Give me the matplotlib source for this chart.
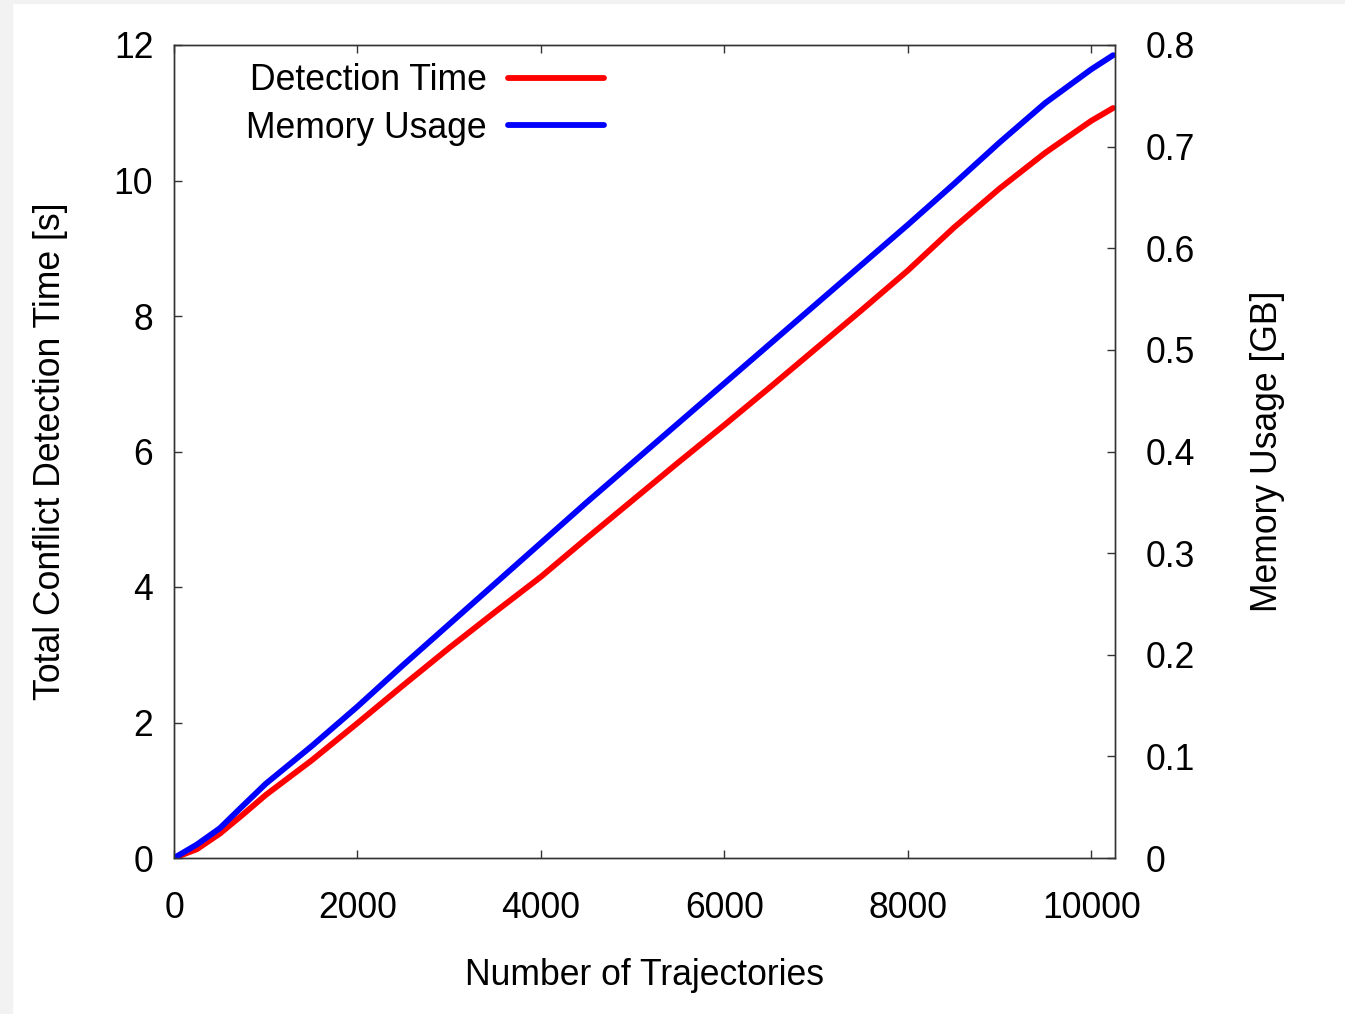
import numpy as np
import matplotlib.pyplot as plt
from matplotlib.patches import Rectangle

plt.rcParams['font.family'] = ['Liberation Sans', 'DejaVu Sans']

# number of trajectories
trajectories = [0, 250, 500, 750, 1000, 1500, 2000, 2500, 3000, 3500, 4000, 4500,
                5000, 5500, 6000, 6500, 7000, 7500, 8000, 8500, 9000, 9500, 10000, 10240]
# total conflict detection time [s]
detection_time = [0, 0.13, 0.36, 0.64, 0.93, 1.44, 1.99, 2.55, 3.10, 3.63, 4.15, 4.72,
                  5.28, 5.84, 6.39, 6.95, 7.52, 8.09, 8.67, 9.30, 9.88, 10.41, 10.88, 11.07]
# memory usage [GB]
memory_usage = [0, 0.0133, 0.0293, 0.0513, 0.0730, 0.110, 0.149, 0.190, 0.230, 0.270, 0.310, 0.350,
                0.389, 0.428, 0.467, 0.506, 0.545, 0.584, 0.623, 0.663, 0.704, 0.743, 0.776, 0.790]

x_ticks = [0, 2000, 4000, 6000, 8000, 10000]
y1_ticks = [0, 2, 4, 6, 8, 10, 12]
y2_ticks = [0, 0.1, 0.2, 0.3, 0.4, 0.5, 0.6, 0.7, 0.8]
y2_labels = ['0', '0.1', '0.2', '0.3', '0.4', '0.5', '0.6', '0.7', '0.8']

fs = 25.6

fig = plt.figure(figsize=(13.45, 10.14), dpi=100)
# light grey border of the screenshot
fig.patches.append(Rectangle((0, 0), 12 / 1345, 1, transform=fig.transFigure,
                             color='#f2f2f2', zorder=0))
fig.patches.append(Rectangle((0, 1 - 3 / 1014), 1, 3 / 1014, transform=fig.transFigure,
                             color='#f2f2f2', zorder=0))

ax = fig.add_axes([174 / 1345, 156 / 1014, 941 / 1345, 813 / 1014])
ax2 = ax.twinx()

l1, = ax.plot(trajectories, detection_time, color='#ff0000', lw=4.2,
              solid_capstyle='round', label='Detection Time')
l2, = ax2.plot(trajectories, memory_usage, color='#0000ff', lw=4.2,
               solid_capstyle='round', label='Memory Usage')

ax.set_xlim(0, 10260)
ax.set_ylim(0, 12)
ax2.set_ylim(0, 0.8)

ax.set_xticks(x_ticks)
ax.set_xticklabels([str(t) for t in x_ticks])
ax.set_yticks(y1_ticks)
ax2.set_yticks(y2_ticks)
ax2.set_yticklabels(y2_labels)

ax.tick_params(axis='x', direction='in', length=6, width=1, labelsize=fs, pad=24,
               top=True, colors='#333333', labelcolor='black')
ax.tick_params(axis='y', direction='in', length=6, width=1, labelsize=fs, pad=15,
               colors='#333333', labelcolor='black')
ax2.tick_params(axis='y', direction='in', length=6, width=1, labelsize=fs, pad=22,
                colors='#333333', labelcolor='black')

for a in (ax, ax2):
    for s in a.spines.values():
        s.set_color('#333333')
        s.set_linewidth(1.0)

ax.set_xlabel('Number of Trajectories', fontsize=fs, labelpad=23)
ax.set_ylabel('Total Conflict Detection Time [s]', fontsize=fs, labelpad=33)
ax2.set_ylabel('Memory Usage [GB]', fontsize=fs, labelpad=40)

ax.legend(handles=[l1, l2], loc='upper right', bbox_to_anchor=(604 / 1345, 1 - 63 / 1014),
          bbox_transform=fig.transFigure, frameon=False, markerfirst=False,
          fontsize=fs, handlelength=2.7, handletextpad=0.6, labelspacing=0.36,
          borderpad=0, borderaxespad=0)

fig.savefig('out.png', dpi=100)
